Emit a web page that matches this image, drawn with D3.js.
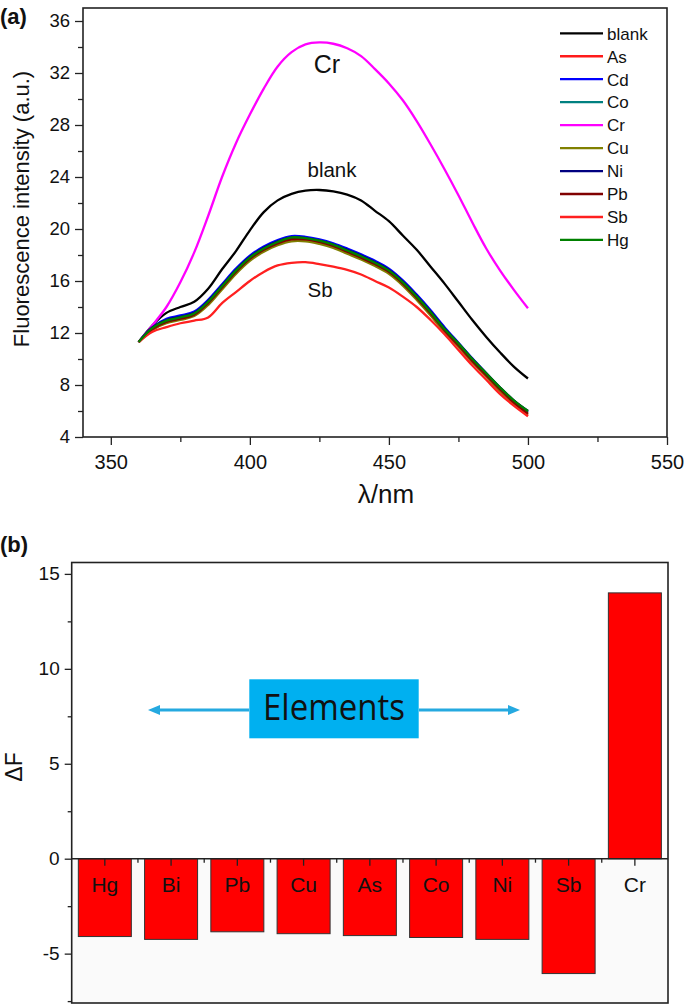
<!DOCTYPE html>
<html><head><meta charset="utf-8">
<script src="https://cdn.jsdelivr.net/npm/d3@7"></script>
<style>
html,body{margin:0;padding:0;background:#fff;}
svg{display:block;font-family:"Liberation Sans",Arial,sans-serif;}
</style></head>
<body>
<svg id="c" width="685" height="1006"></svg>
<script>
// ---------- Data: panel (a) fluorescence spectra ----------
const wavelengths = [360,365,370,375,380,385,390,395,400,405,410,415,420,425,430,435,440,445,450,455,460,465,470,475,480,485,490,495,500];
const blank = [11.3,12.6,13.55,14.0,14.4,15.4,16.9,18.3,19.9,21.3,22.2,22.7,22.95,23.0,22.9,22.65,22.2,21.4,20.6,19.5,18.4,17.1,15.8,14.4,13.0,11.7,10.5,9.4,8.5];
const As  = [11.3,12.25,12.85,13.1,13.4,14.3,15.5,16.7,17.7,18.4,18.9,19.2,19.15,18.95,18.65,18.2,17.75,17.25,16.65,15.75,14.65,13.45,12.15,11.0,9.8,8.65,7.55,6.5,5.65];
const Cd  = [11.3,12.45,13.1,13.35,13.65,14.55,15.75,16.95,17.95,18.65,19.15,19.45,19.4,19.2,18.9,18.5,18.05,17.55,16.95,16.05,14.95,13.75,12.45,11.25,10.05,8.9,7.75,6.75,5.95];
const Co  = [11.3,12.35,12.9,13.15,13.45,14.35,15.55,16.75,17.75,18.45,18.95,19.3,19.25,19.05,18.75,18.3,17.85,17.35,16.75,15.85,14.75,13.55,12.25,11.1,9.9,8.8,7.7,6.7,5.9];
const Cr  = [11.3,12.6,14.0,15.9,18.2,21.0,24.0,26.6,28.8,30.8,32.5,33.6,34.2,34.35,34.25,33.9,33.3,32.3,31.2,29.9,28.3,26.5,24.6,22.6,20.5,18.5,16.8,15.3,13.9];
const Cu  = [11.3,12.25,12.75,13.0,13.3,14.15,15.35,16.55,17.55,18.25,18.75,19.05,19.05,18.85,18.55,18.1,17.65,17.15,16.55,15.65,14.55,13.35,12.05,10.95,9.75,8.65,7.55,6.55,5.75];
const Ni  = [11.3,12.45,13.0,13.25,13.55,14.45,15.65,16.85,17.85,18.55,19.05,19.35,19.3,19.1,18.8,18.4,17.95,17.45,16.85,15.95,14.85,13.65,12.35,11.2,10.0,8.9,7.8,6.8,6.0];
const Pb  = [11.3,12.3,12.85,13.1,13.4,14.3,15.5,16.7,17.7,18.4,18.9,19.2,19.2,19.0,18.7,18.25,17.8,17.3,16.7,15.8,14.7,13.5,12.2,11.05,9.85,8.75,7.65,6.65,5.8];
const Sb  = [11.3,12.1,12.45,12.75,12.95,13.2,14.3,15.15,16.0,16.7,17.2,17.4,17.45,17.3,17.1,16.85,16.5,16.0,15.5,14.8,14.0,13.0,11.9,10.7,9.5,8.4,7.3,6.4,5.6];
const Hg  = [11.3,12.4,12.95,13.2,13.5,14.4,15.6,16.8,17.8,18.5,19.0,19.35,19.3,19.1,18.8,18.35,17.9,17.4,16.8,15.9,14.8,13.6,12.3,11.2,10.0,8.9,7.8,6.8,6.0];
const seriesNames = ["blank","As","Cd","Co","Cr","Cu","Ni","Pb","Sb","Hg"];
const seriesValues = [blank,As,Cd,Co,Cr,Cu,Ni,Pb,Sb,Hg];
const seriesColors = ["#000000","#ff1a1a","#0000ff","#008080","#ff00ff","#808000","#000080","#800000","#ff2020","#008000"];
const xTicksA = [350,400,450,500,550];
const yTicksA = [4,8,12,16,20,24,28,32,36];

// ---------- Data: panel (b) ΔF bars ----------
const elements = ["Hg","Bi","Pb","Cu","As","Co","Ni","Sb","Cr"];
const deltaF = [-4.1,-4.25,-3.85,-3.95,-4.05,-4.15,-4.25,-6.05,14.0];
const yTicksB = [-5,0,5,10,15];

const svg = d3.select("#c");
const FONT = '"Liberation Sans",Arial,sans-serif';

// ================= Panel (a) =================
const A = {l:83, r:667, t:8, b:437};
const xA = d3.scaleLinear().domain([340,550]).range([A.l,A.r]);
const yA = d3.scaleLinear().domain([4,37]).range([A.b,A.t]);

const gA = svg.append("g");
gA.append("rect").attr("x",A.l).attr("y",A.t).attr("width",A.r-A.l).attr("height",A.b-A.t)
  .attr("fill","none").attr("stroke","#222").attr("stroke-width",1.6);

// y axis
const gyA = gA.append("g").attr("transform",`translate(${A.l},0)`)
  .call(d3.axisLeft(yA).tickValues(yTicksA).tickSize(8).tickPadding(5));
gA.append("g").attr("transform",`translate(${A.l},0)`)
  .call(d3.axisLeft(yA).tickValues(d3.range(6,37,4)).tickSize(5).tickFormat(""));
// x axis
const gxA = gA.append("g").attr("transform",`translate(0,${A.b})`)
  .call(d3.axisBottom(xA).tickValues(xTicksA).tickSize(8).tickPadding(10));
gA.append("g").attr("transform",`translate(0,${A.b})`)
  .call(d3.axisBottom(xA).tickValues([375,425,475,525]).tickSize(5).tickFormat(""));
gA.selectAll(".domain").remove();
gA.selectAll(".tick line").attr("stroke","#222").attr("stroke-width",1.3);
gyA.selectAll("text").attr("font-size",18.5).attr("font-family",FONT).attr("fill","#111");
gxA.selectAll("text").attr("font-size",20).attr("font-family",FONT).attr("fill","#111");

// lines
const line = d3.line().x((d,i)=>xA(wavelengths[i])).y(d=>yA(d)).curve(d3.curveCatmullRom.alpha(0.5));
seriesValues.forEach((vals,i)=>{
  gA.append("path").datum(vals).attr("d",line).attr("fill","none")
    .attr("stroke",seriesColors[i]).attr("stroke-width",2.3).attr("stroke-linejoin","round");
});

// legend
const leg = gA.append("g");
seriesNames.forEach((n,i)=>{
  const y = 33.3 + i*22.96;
  leg.append("line").attr("x1",560).attr("x2",603).attr("y1",y).attr("y2",y)
    .attr("stroke",seriesColors[i]).attr("stroke-width",2.3);
  leg.append("text").attr("x",607).attr("y",y+6.3).text(n)
    .attr("font-size",17).attr("font-family",FONT).attr("fill","#111");
});

// annotations
gA.append("text").attr("x",327).attr("y",73).attr("text-anchor","middle").text("Cr")
  .attr("font-size",25).attr("font-family",FONT).attr("fill","#111");
gA.append("text").attr("x",332).attr("y",177).attr("text-anchor","middle").text("blank")
  .attr("font-size",20.5).attr("font-family",FONT).attr("fill","#111");
gA.append("text").attr("x",320).attr("y",297).attr("text-anchor","middle").text("Sb")
  .attr("font-size",20.5).attr("font-family",FONT).attr("fill","#111");

// axis titles
gA.append("text").attr("transform","translate(29,209) rotate(-90)").attr("text-anchor","middle")
  .text("Fluorescence intensity (a.u.)").attr("font-size",22).attr("font-family",FONT).attr("fill","#111");
gA.append("text").attr("x",386).attr("y",503).attr("text-anchor","middle")
  .text("λ/nm").attr("font-size",26).attr("font-family",FONT).attr("fill","#111");
svg.append("text").attr("x",0).attr("y",24).text("(a)")
  .attr("font-size",22).attr("font-weight","bold").attr("font-family",FONT).attr("fill","#111");

// ================= Panel (b) =================
const B = {l:71.7, r:668, t:562.5, b:1003};
const yB = d3.scaleLinear().domain([-7.6,15.6]).range([B.b,B.t]);
const xB = d3.scaleBand().domain(elements).range([B.l,B.r]).paddingInner(0.2).paddingOuter(0.1);
const gB = svg.append("g");

// very light background below zero
gB.append("rect").attr("x",B.l).attr("y",yB(0)).attr("width",B.r-B.l).attr("height",B.b-yB(0)).attr("fill","#fafafa");

// bars
gB.selectAll("rect.bar").data(elements).enter().append("rect").attr("class","bar")
  .attr("x",d=>xB(d)).attr("width",xB.bandwidth())
  .attr("y",(d,i)=>yB(Math.max(0,deltaF[i])))
  .attr("height",(d,i)=>Math.abs(yB(deltaF[i])-yB(0)))
  .attr("fill","#ff0000").attr("stroke","#333").attr("stroke-width",1);

// frame
gB.append("rect").attr("x",B.l).attr("y",B.t).attr("width",B.r-B.l).attr("height",B.b-B.t)
  .attr("fill","none").attr("stroke","#222").attr("stroke-width",1.6);

// y axis
const fmtB = d => String(d);
const gyB = gB.append("g").attr("transform",`translate(${B.l},0)`)
  .call(d3.axisLeft(yB).tickValues(yTicksB).tickSize(7).tickPadding(5).tickFormat(fmtB));
gB.append("g").attr("transform",`translate(${B.l},0)`)
  .call(d3.axisLeft(yB).tickValues([-7.5,-2.5,2.5,7.5,12.5]).tickSize(4).tickFormat(""));
// zero line
gB.append("line").attr("x1",B.l).attr("x2",B.r).attr("y1",yB(0)).attr("y2",yB(0))
  .attr("stroke","#222").attr("stroke-width",1.6);
// x ticks at zero (downward)
const step = xB.step();
gB.selectAll("line.mt").data(elements).enter().append("line")
  .attr("x1",d=>xB(d)+xB.bandwidth()/2).attr("x2",d=>xB(d)+xB.bandwidth()/2)
  .attr("y1",yB(0)).attr("y2",yB(0)+7).attr("stroke","#222").attr("stroke-width",1.3);
gB.selectAll("line.nt").data(elements.slice(1)).enter().append("line")
  .attr("x1",d=>xB(d)-step*0.1).attr("x2",d=>xB(d)-step*0.1)
  .attr("y1",yB(0)).attr("y2",yB(0)+4).attr("stroke","#222").attr("stroke-width",1.3);
gB.selectAll("text.cat").data(elements).enter().append("text")
  .attr("x",d=>xB(d)+xB.bandwidth()/2).attr("y",yB(0)+33.4).attr("text-anchor","middle")
  .text(d=>d).attr("font-size",21).attr("font-family",FONT).attr("fill","#111");

gB.selectAll(".domain").remove();
gB.selectAll(".tick line").attr("stroke","#222").attr("stroke-width",1.3);
gyB.selectAll("text").attr("font-size",19).attr("font-family",FONT).attr("fill","#111");

// annotation "Elements"
const ann = gB.append("g");
const arrowColor = "#25a9e0";
const ay = 710;
ann.append("line").attr("x1",249).attr("x2",158).attr("y1",ay).attr("y2",ay).attr("stroke",arrowColor).attr("stroke-width",3);
ann.append("path").attr("d",`M148,${ay} L160,${ay-5} L160,${ay+5} Z`).attr("fill",arrowColor);
ann.append("line").attr("x1",419).attr("x2",510).attr("y1",ay).attr("y2",ay).attr("stroke",arrowColor).attr("stroke-width",3);
ann.append("path").attr("d",`M520,${ay} L508,${ay-5} L508,${ay+5} Z`).attr("fill",arrowColor);
ann.append("rect").attr("x",249.3).attr("y",679.3).attr("width",169.4).attr("height",59).attr("fill","#00b0f0");
ann.append("text").attr("x",263).attr("y",720).attr("textLength",142).attr("lengthAdjust","spacingAndGlyphs")
  .text("Elements").attr("font-size",36).attr("font-family",'"Open Sans","Noto Sans",sans-serif').attr("fill","#111");

// titles
gB.append("text").attr("transform","translate(22,767) rotate(-90)").attr("text-anchor","middle")
  .text("ΔF").attr("font-size",23).attr("font-family",FONT).attr("fill","#111");
svg.append("text").attr("x",0).attr("y",552).text("(b)")
  .attr("font-size",22).attr("font-weight","bold").attr("font-family",FONT).attr("fill","#111");
</script>
</body></html>
